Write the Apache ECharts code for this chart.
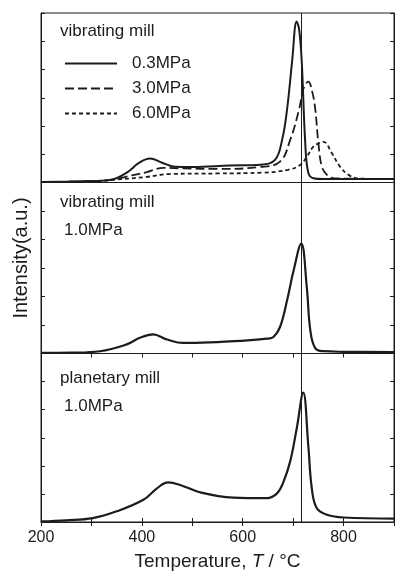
<!DOCTYPE html>
<html>
<head>
<meta charset="utf-8">
<script src="https://cdn.jsdelivr.net/npm/echarts@6/dist/echarts.min.js"></script>
<style>
  html, body { margin: 0; padding: 0; background: #fff; }
  #chart { width: 398px; height: 572px; }
</style>
</head>
<body>
<div id="chart"></div>
<script>
// panel 1: vibrating mill, three pressures
const tempA03 = [200, 250, 300, 340, 370, 395, 416, 440, 465, 500, 575, 635, 664, 678, 688, 698, 707, 712, 717, 724, 730, 740, 760, 800, 900];
const intA03 = [0.02, 0.03, 0.05, 0.1, 0.35, 0.7, 0.85, 0.7, 0.56, 0.55, 0.6, 0.63, 0.8, 1.5, 2.6, 4.3, 5.7, 5.4, 4.3, 1.4, 0.35, 0.15, 0.12, 0.12, 0.12];
const tempA30 = [200, 300, 340, 380, 410, 443, 480, 550, 635, 674, 694, 712, 720, 730, 738, 744, 750, 757, 767, 780, 900];
const intA30 = [0.02, 0.04, 0.1, 0.25, 0.37, 0.52, 0.5, 0.48, 0.55, 0.74, 1.5, 2.6, 3.3, 3.57, 3.2, 2.57, 1.4, 0.56, 0.27, 0.15, 0.12];
const tempA60 = [200, 300, 360, 410, 456, 550, 640, 690, 714, 727, 740, 750, 760, 777, 793, 810, 830, 900];
const intA60 = [0.02, 0.04, 0.12, 0.2, 0.3, 0.32, 0.35, 0.45, 0.62, 0.91, 1.27, 1.38, 1.44, 1.03, 0.56, 0.27, 0.14, 0.12];

// panel 2: vibrating mill 1.0MPa
const tempB = [200, 260, 317, 370, 396, 422, 450, 482, 549, 595, 648, 661, 674, 688, 701, 716, 727, 734, 744, 760, 800, 900];
const intB = [0.02, 0.03, 0.08, 0.32, 0.55, 0.67, 0.49, 0.37, 0.4, 0.44, 0.52, 0.58, 0.93, 1.87, 2.92, 3.86, 2.34, 0.82, 0.18, 0.08, 0.06, 0.05];

// panel 3: planetary mill 1.0MPa
const tempC = [200, 250, 303, 350, 403, 430, 452, 476, 515, 581, 648, 668, 681, 694, 707, 720, 730, 737, 747, 767, 800, 900];
const intC = [0.02, 0.06, 0.14, 0.38, 0.79, 1.2, 1.41, 1.32, 1.06, 0.87, 0.85, 1.02, 1.44, 2.15, 3.32, 4.61, 2.73, 1.2, 0.49, 0.26, 0.16, 0.12];

const xTicks = [200, 400, 600, 800];
const legendNames = ['0.3MPa', '3.0MPa', '6.0MPa'];
const refTemp = 716;

const ink = '#1c1c1c';
const font = 'Liberation Sans, Arial, sans-serif';

const zip = (xs, ys) => xs.map((x, i) => [x, ys[i]]);

const grids = [
    {left: 41, width: 353, top: 13, height: 169.5},
    {left: 41, width: 353, top: 182.5, height: 171},
    {left: 41, width: 353, top: 353.5, height: 170.5}
];

const xAxes = grids.map((g, i) => ({
    type: 'value', gridIndex: i, min: 200, max: 900, interval: 100,
    axisLine: {show: true, onZero: false, lineStyle: {color: ink, width: 1}},
    axisTick: {show: i === 2, inside: true, length: 4, lineStyle: {color: ink}},
    axisLabel: {
        show: i === 2, color: ink, fontSize: 16, fontFamily: font, margin: 8,
        formatter: v => xTicks.includes(v) ? String(v) : ''
    },
    splitLine: {show: false},
    name: i === 2 ? '{a|Temperature, }{b|T}{a| / °C}' : '',
    nameLocation: 'middle', nameGap: 30,
    nameTextStyle: {
        rich: {
            a: {fontSize: 19, color: ink, fontFamily: font},
            b: {fontSize: 19, color: ink, fontFamily: font, fontStyle: 'italic'}
        }
    }
}));

// top axes for the lower panels carry the inward ticks at the separators
[1, 2].forEach(i => xAxes.push({
    type: 'value', gridIndex: i, position: 'top', min: 200, max: 900, interval: 100,
    axisLine: {show: false},
    axisTick: {show: true, inside: true, length: 4, lineStyle: {color: ink}},
    axisLabel: {show: false},
    splitLine: {show: false}
}));

const yAxes = [];
grids.forEach((g, i) => {
    ['left', 'right'].forEach(pos => yAxes.push({
        type: 'value', gridIndex: i, position: pos, min: 0, max: 6, interval: 1,
        axisLine: {show: true, lineStyle: {color: ink, width: 1}},
        axisTick: {show: true, inside: true, length: 4, lineStyle: {color: ink}},
        axisLabel: {show: false},
        splitLine: {show: false},
        name: (i === 1 && pos === 'left') ? 'Intensity(a.u.)' : '',
        nameLocation: 'middle', nameGap: 10,
        nameTextStyle: {fontSize: 20, color: ink, fontFamily: font, padding: [0, 0, 0, 20]}
    }));
});

const vline = {
    silent: true, symbol: 'none', label: {show: false},
    lineStyle: {color: ink, width: 1, type: 'solid'},
    data: [{xAxis: refTemp}]
};

const curve = (name, data, gi, type, width) => ({
    name: name, type: 'line', xAxisIndex: gi, yAxisIndex: gi * 2,
    data: data, showSymbol: false, symbol: 'none',
    smooth: 0.4,
    lineStyle: {color: ink, width: width, type: type},
    itemStyle: {color: ink},
    z: 3
});

const series = [
    Object.assign(curve('0.3MPa', zip(tempA03, intA03), 0, 'solid', 2), {markLine: vline}),
    curve('3.0MPa', zip(tempA30, intA30), 0, [9, 4], 1.8),
    curve('6.0MPa', zip(tempA60, intA60), 0, [4, 3], 1.8),
    Object.assign(curve('b', zip(tempB, intB), 1, 'solid', 2.2), {markLine: vline}),
    Object.assign(curve('c', zip(tempC, intC), 2, 'solid', 2.2), {markLine: vline})
];

const panelText = (x, y, text) => ({
    type: 'text', left: x, top: y,
    style: {text: text, fontSize: 17, fill: ink, fontFamily: font}
});

const chart = echarts.init(document.getElementById('chart'), null, {renderer: 'canvas'});
chart.setOption({
    backgroundColor: '#fff',
    animation: false,
    grid: grids.map(g => Object.assign({show: true, borderColor: ink, borderWidth: 1, backgroundColor: 'transparent'}, g)),
    xAxis: xAxes,
    yAxis: yAxes,
    legend: {
        data: legendNames,
        orient: 'vertical', left: 59, top: 50,
        itemWidth: 52, itemHeight: 12, itemGap: 8,
        itemStyle: {opacity: 0},
        textStyle: {fontSize: 17, color: ink, fontFamily: font, padding: [0, 0, 0, 10]},
        selectedMode: false
    },
    graphic: [
        panelText(60, 23, 'vibrating mill'),
        panelText(60, 194, 'vibrating mill'),
        panelText(64, 222, '1.0MPa'),
        panelText(60, 370, 'planetary mill'),
        panelText(64, 398, '1.0MPa')
    ],
    series: series
});
</script>
</body>
</html>
